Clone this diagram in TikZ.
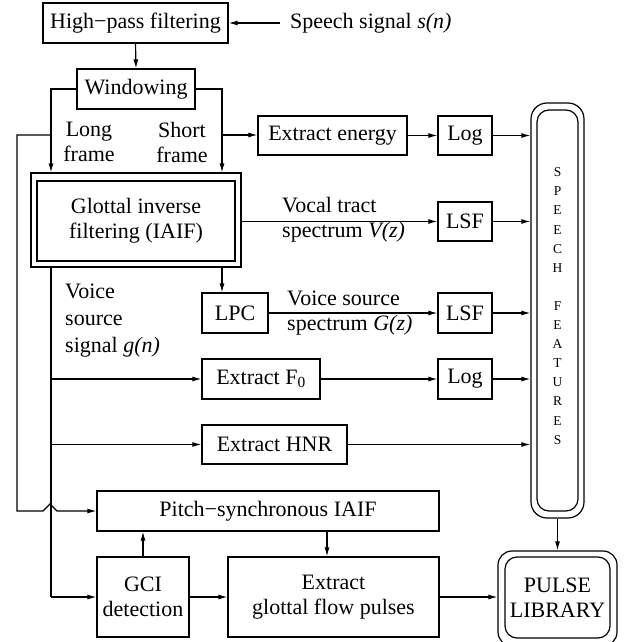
\documentclass[tikz,border=0pt]{standalone}
\usepackage{fontspec}
\setmainfont{Liberation Serif}
\usetikzlibrary{arrows.meta}
\begin{document}
\begin{tikzpicture}[x=1pt,y=-1pt,
  every node/.style={font=\fontsize{22}{25}\selectfont},
  box/.style={draw, line width=1.2pt, inner sep=0pt, align=center},
  ln/.style={line width=1.2pt},
  arr/.style={line width=1.2pt, -{Latex[length=9pt,width=5pt]}},
  lbl/.style={inner sep=0pt, align=left},
]
\useasboundingbox (0,0) rectangle (631,642);
% boxes
\node[box, minimum width=185pt, minimum height=40pt] (hp) at (135.5,23) {High−pass filtering};
\node[anchor=west, inner sep=0pt, inner xsep=10pt] (sp) at (280,23) {Speech signal \textit{s(n)}};
\node[box, minimum width=118pt, minimum height=40pt] (win) at (136,89) {Windowing};
\node[lbl, align=center] (lf) at (89,142) {Long\\frame};
\node[lbl, align=center] (sfr) at (182,142) {Short\\frame};
\node[box, minimum width=149pt, minimum height=39pt] (ee) at (332.5,135.5) {Extract energy};
\node[box, minimum width=54pt, minimum height=39pt] (log1) at (465,135.5) {Log};
\node[box, minimum width=210pt, minimum height=94pt] (iaif) at (136,220) {};
\node[box, minimum width=198pt, minimum height=80pt] (iaifin) at (136,221) {Glottal inverse\\filtering (IAIF)};
\node[box, minimum width=54pt, minimum height=39pt] (lsf1) at (465,221.5) {LSF};
\node[lbl, anchor=west] (vt) at (282,220) {Vocal tract\\spectrum \textit{V(z)}};
\node[box, minimum width=66pt, minimum height=40pt] (lpc) at (235,313) {LPC};
\node[box, minimum width=54pt, minimum height=40pt] (lsf2) at (465,313) {LSF};
\node[lbl, anchor=west] (vs) at (287,313) {Voice source\\spectrum \textit{G(z)}};
\node[lbl, anchor=west, font=\fontsize{22}{27}\selectfont] (vss) at (65,321) {Voice\\source\\signal \textit{g(n)}};
\node[box, minimum width=118pt, minimum height=40pt] (f0) at (261,379) {Extract F\textsubscript{0}};
\node[box, minimum width=54pt, minimum height=40pt] (log2) at (465,379) {Log};
\node[box, minimum width=145pt, minimum height=39pt] (hnr) at (274.5,444.5) {Extract HNR};
\node[box, minimum width=342pt, minimum height=40pt] (psi) at (268,511) {Pitch−synchronous IAIF};
\node[box, minimum width=92pt, minimum height=80pt] (gci) at (143,597) {GCI\\detection};
\node[box, minimum width=211pt, minimum height=80pt] (egf) at (333.5,597) {Extract\\glottal flow pulses};
\node[box, rounded corners=16pt, minimum width=53pt, minimum height=415pt] (sf) at (557.5,310.5) {};
\node[box, rounded corners=12pt, minimum width=41pt, minimum height=401pt] (sfin) at (557.5,310.5) {};
\node[lbl, align=center, font=\fontsize{13.5}{19.1}\selectfont] (sftxt) at (557.5,306) {S\\P\\E\\E\\C\\H\\\mbox{}\\F\\E\\A\\T\\U\\R\\E\\S};
\node[box, rounded corners=14pt, minimum width=119pt, minimum height=95pt] (pl) at (557.5,598.5) {};
\node[box, rounded corners=12pt, minimum width=105pt, minimum height=81pt] (plin) at (557.5,597.5) {PULSE\\LIBRARY};
% junctions
\coordinate (L) at (51,135);
\coordinate (R) at (222,135);
\coordinate (FL) at (17,135);
\coordinate (P) at (327,531);
% connectors
\draw[arr] (sp.west) -- (hp.east);
\draw[arr] (hp.south) -- (win.north);
\draw[arr] (win.west) -| (L |- iaif.north);
\draw[arr] (win.east) -| (R |- iaif.north);
\draw[arr] (R) -- (R -| ee.west);
\draw[arr] (ee) -- (log1);
\draw[arr] (log1) -- (log1 -| sf.west);
\draw[arr] (iaif.east |- lsf1) -- (lsf1.west);
\draw[arr] (lsf1) -- (lsf1 -| sf.west);
\draw[arr] (iaif.south -| R) -- (R |- lpc.north);
\draw[arr] (lpc) -- (lsf2);
\draw[arr] (lsf2) -- (lsf2 -| sf.west);
\draw[ln] (iaif.south -| L) -- (L |- gci);
\draw[arr] (L |- f0) -- (f0.west);
\draw[arr] (L |- hnr) -- (hnr.west);
\draw[arr] (L |- gci) -- (gci.west);
\draw[arr] (f0) -- (log2);
\draw[arr] (log2) -- (log2 -| sf.west);
\draw[arr] (hnr) -- (hnr -| sf.west);
\draw[arr] (L) -- (FL) -- (FL |- psi) -- ++(26,0) -- ++(7,-7) -- ++(7,7) -- (psi.west);
\draw[arr] (gci.north) -- (gci.north |- psi.south);
\draw[arr] (P) -- (P |- egf.north);
\draw[arr] (gci) -- (egf);
\draw[arr] (egf) -- (egf -| pl.west);
\draw[arr] (sf.south) -- (pl.north);
\end{tikzpicture}
\end{document}
